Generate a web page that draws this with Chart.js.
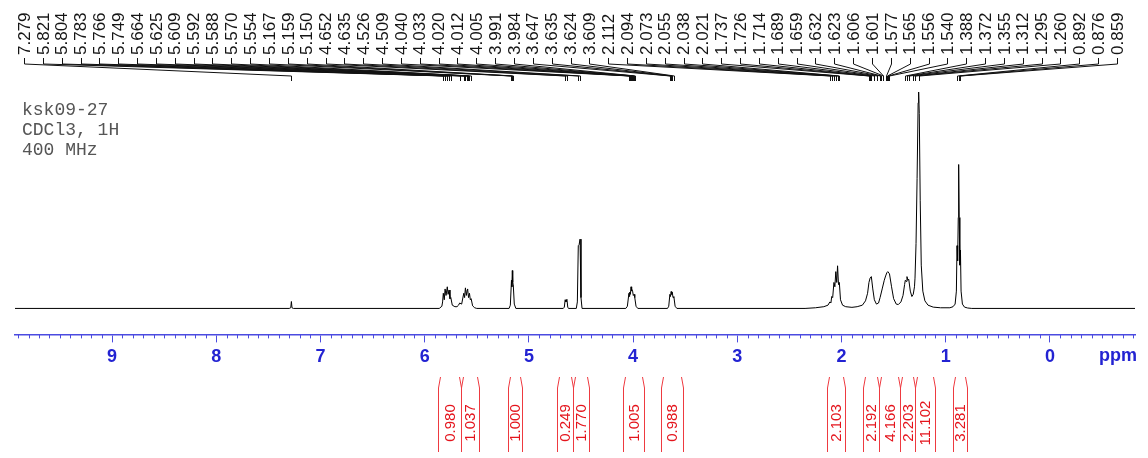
<!DOCTYPE html>
<html>
<head>
<meta charset="utf-8">
<script src="https://cdn.jsdelivr.net/npm/chart.js"></script>
<style>
  body { margin: 0; background: #fff; }
  canvas { display: block; }
</style>
</head>
<body>
<canvas id="nmrChart" width="1148" height="458"></canvas>
<script>
// Sample info (top left)
const sampleInfo = ['ksk09-27', 'CDCl3, 1H', '400 MHz'];

// Picked peaks (ppm), shown along the top
const peakLabels = [
    '7.279', '5.821', '5.804', '5.783', '5.766', '5.749', '5.664', '5.625', '5.609', '5.592',
    '5.588', '5.570', '5.554', '5.167', '5.159', '5.150', '4.652', '4.635', '4.526', '4.509',
    '4.040', '4.033', '4.020', '4.012', '4.005', '3.991', '3.984', '3.647', '3.635', '3.624',
    '3.609', '2.112', '2.094', '2.073', '2.055', '2.038', '2.021', '1.737', '1.726', '1.714',
    '1.689', '1.659', '1.632', '1.623', '1.606', '1.601', '1.577', '1.565', '1.556', '1.540',
    '1.388', '1.372', '1.355', '1.312', '1.295', '1.260', '0.892', '0.876', '0.859'
];

// Integral regions (ppm) and values
const intFrom = [5.872, 5.652, 5.201, 4.730, 4.577, 4.097, 3.732, 2.140, 1.794, 1.641, 1.439, 1.295, 0.935];
const intTo   = [5.652, 5.479, 5.066, 4.577, 4.423, 3.896, 3.521, 1.967, 1.641, 1.439, 1.295, 1.103, 0.800];
const intValues = ['0.980', '1.037', '1.000', '0.249', '1.770', '1.005', '0.988',
                   '2.103', '2.192', '4.166', '2.203', '11.102', '3.281'];

// Axis
const ppmMin = -0.816;
const ppmMax = 9.931;

// Spectrum trace (ppm, relative intensity)
const specPpm = [
    9.931, 7.300, 7.285, 7.279, 7.273, 7.260,
    5.860, 5.835, 5.828, 5.821, 5.812, 5.804, 5.795, 5.783, 5.775, 5.766, 5.757, 5.749, 5.735, 5.710,
    5.690, 5.675, 5.664, 5.645, 5.625, 5.617, 5.609, 5.600, 5.592, 5.588, 5.579, 5.570, 5.562, 5.554,
    5.540, 5.520, 5.500,
    5.190, 5.178, 5.167, 5.163, 5.159, 5.155, 5.150, 5.140, 5.125,
    4.670, 4.660, 4.652, 4.644, 4.635, 4.627, 4.620,
    4.545, 4.535, 4.526, 4.518, 4.509, 4.500, 4.490,
    4.070, 4.055, 4.040, 4.036, 4.033, 4.026, 4.020, 4.016, 4.012, 4.005, 3.998, 3.991, 3.984, 3.972, 3.955,
    3.670, 3.658, 3.647, 3.641, 3.635, 3.630, 3.624, 3.617, 3.609, 3.597, 3.580,
    2.350, 2.250, 2.170, 2.130, 2.112, 2.102, 2.094, 2.085, 2.073, 2.064, 2.055, 2.046, 2.038, 2.029,
    2.021, 2.010, 1.990, 1.960, 1.900, 1.850, 1.800, 1.770, 1.750, 1.737, 1.726, 1.714, 1.700, 1.685,
    1.665, 1.645, 1.630, 1.610, 1.590, 1.577, 1.565, 1.556, 1.540, 1.520, 1.500, 1.475, 1.455, 1.430,
    1.410, 1.395, 1.388, 1.380, 1.372, 1.363, 1.355, 1.340, 1.325, 1.312, 1.300, 1.295, 1.285, 1.275,
    1.265, 1.260, 1.254, 1.245, 1.235, 1.220, 1.200, 1.170, 1.120, 1.050, 0.960, 0.930, 0.910, 0.898,
    0.892, 0.886, 0.880, 0.876, 0.871, 0.865, 0.859, 0.853, 0.840, 0.820, 0.790, 0.750,
    -0.816
];
const specInt = [
    0, 0, 0.3, 3.2, 0.3, 0,
    0, 1, 3, 7, 4, 9, 6, 10, 6.5, 8.5, 4.5, 5, 1.5, 0.8,
    0.8, 1.5, 2.5, 2, 7, 5, 9.5, 6, 8.5, 9, 5, 7, 4, 4.5,
    1.2, 0.3, 0,
    0, 1.5, 13, 10, 17.5, 12, 11, 2, 0,
    0, 0.6, 4, 3, 4.2, 0.6, 0,
    0, 3, 29, 29.5, 32, 5, 0,
    0, 1, 7, 5.5, 7.5, 6.5, 10, 8, 9, 8, 6, 6.5, 5, 1, 0,
    0, 1, 6.5, 5.5, 7.8, 6.5, 7.5, 5, 5.5, 1, 0,
    0, 0.3, 0.8, 1.5, 3, 2.5, 5.5, 5, 12, 10, 17, 12, 19.7, 11,
    12, 4, 1.5, 0.8, 0.5, 0.8, 1.5, 3.5, 7, 12, 14, 14.7, 9, 4,
    2, 2.5, 5, 9, 13, 15, 16.5, 17, 16, 10, 4.5, 2, 1.8, 3,
    6, 11, 13, 12.5, 14.7, 13, 13.5, 8, 5.5, 6.5, 10, 14, 30, 60,
    95, 100, 90, 50, 20, 8, 3.5, 1.5, 0.6, 0.3, 0.3, 0.8, 2, 8,
    29, 22, 42, 66.5, 42, 20, 27, 8, 2, 0.6, 0.2, 0,
    0
];

const AXIS_BLUE = '#4b4be0';
const LABEL_BLUE = '#2323d2';
const INT_RED = '#e4141c';
const INT_LINE = '#ee3a40';

// Extra decorations: minor ticks, "ppm", peak labels, integrals, sample text
const nmrDecor = {
    id: 'nmrDecor',
    afterDraw(chart) {
        const ctx = chart.ctx;
        const xs = chart.scales.x;
        const area = chart.chartArea;
        const axisY = area.bottom;

        ctx.save();

        // minor ticks every 0.1 ppm
        ctx.strokeStyle = AXIS_BLUE;
        ctx.lineWidth = 1;
        ctx.beginPath();
        for (let k = Math.ceil(ppmMin * 10); k <= Math.floor(ppmMax * 10); k++) {
            if (k % 10 === 0) continue;
            const px = Math.round(xs.getPixelForValue(k / 10)) + 0.5;
            ctx.moveTo(px, axisY);
            ctx.lineTo(px, axisY + 4);
        }
        ctx.stroke();

        // "ppm" unit label
        ctx.fillStyle = LABEL_BLUE;
        ctx.font = 'bold 18px "Liberation Sans", Arial, sans-serif';
        ctx.textAlign = 'right';
        ctx.textBaseline = 'middle';
        ctx.fillText('ppm', 1137, axisY + 22);

        // sample text
        ctx.fillStyle = '#555';
        ctx.font = '18px "Liberation Mono", "Courier New", monospace';
        ctx.textAlign = 'left';
        ctx.textBaseline = 'alphabetic';
        sampleInfo.forEach((t, i) => ctx.fillText(t, 22, 115 + i * 20));

        // peak labels with connectors
        const firstX = 24, lastX = 1117;
        const gap = (lastX - firstX) / (peakLabels.length - 1);
        ctx.strokeStyle = '#111';
        ctx.lineWidth = 1;
        ctx.beginPath();
        peakLabels.forEach((lab, i) => {
            const lx = Math.round(firstX + i * gap) + 0.5;
            const px = Math.round(xs.getPixelForValue(parseFloat(lab))) + 0.5;
            ctx.moveTo(lx, 58);
            ctx.lineTo(lx, 64);
            ctx.lineTo(px, 76);
            ctx.lineTo(px, 81);
        });
        ctx.stroke();

        ctx.fillStyle = '#151515';
        ctx.font = '17px "Liberation Sans", Arial, sans-serif';
        ctx.textAlign = 'left';
        ctx.textBaseline = 'middle';
        peakLabels.forEach((lab, i) => {
            const lx = firstX + i * gap;
            ctx.save();
            ctx.translate(lx, 55);
            ctx.rotate(-Math.PI / 2);
            ctx.fillText(lab, 0, 1);
            ctx.restore();
        });

        // integrals
        ctx.strokeStyle = INT_LINE;
        ctx.lineWidth = 1;
        ctx.beginPath();
        intFrom.forEach((f, i) => {
            const a = Math.round(xs.getPixelForValue(f)) + 0.5;
            const b = Math.round(xs.getPixelForValue(intTo[i])) + 0.5;
            ctx.moveTo(a + 2, 377);
            ctx.lineTo(a, 388);
            ctx.lineTo(a, 452);
            ctx.moveTo(b - 2, 377);
            ctx.lineTo(b, 388);
            ctx.lineTo(b, 452);
        });
        ctx.stroke();

        ctx.fillStyle = INT_RED;
        ctx.font = '15px "Liberation Sans", Arial, sans-serif';
        ctx.textAlign = 'center';
        ctx.textBaseline = 'middle';
        intValues.forEach((v, i) => {
            const mid = (xs.getPixelForValue(intFrom[i]) + xs.getPixelForValue(intTo[i])) / 2;
            ctx.save();
            ctx.translate(mid, 423);
            ctx.rotate(-Math.PI / 2);
            ctx.fillText(v, 0, 1);
            ctx.restore();
        });

        ctx.restore();
    }
};

const ctx = document.getElementById('nmrChart');
new Chart(ctx, {
    type: 'line',
    data: {
        datasets: [{
            data: specPpm.map((p, i) => ({ x: p, y: specInt[i] })),
            borderColor: '#000',
            borderWidth: 1,
            pointRadius: 0,
            tension: 0,
            fill: false
        }]
    },
    options: {
        responsive: false,
        animation: false,
        layout: { padding: { left: 15, right: 13, top: 92, bottom: 86 } },
        plugins: {
            legend: { display: false },
            tooltip: { enabled: false }
        },
        scales: {
            x: {
                type: 'linear',
                reverse: true,
                min: ppmMin,
                max: ppmMax,
                grid: { drawOnChartArea: false, color: AXIS_BLUE, tickLength: 8 },
                border: { color: AXIS_BLUE, width: 1.5 },
                ticks: {
                    stepSize: 1,
                    includeBounds: false,
                    autoSkip: false,
                    maxRotation: 0,
                    padding: 4,
                    color: LABEL_BLUE,
                    font: { family: '"Liberation Sans", Arial, sans-serif', size: 18, weight: 'bold' },
                    callback: v => String(v)
                }
            },
            y: { display: false, min: -12, max: 100 }
        }
    },
    plugins: [nmrDecor]
});
</script>
</body>
</html>
